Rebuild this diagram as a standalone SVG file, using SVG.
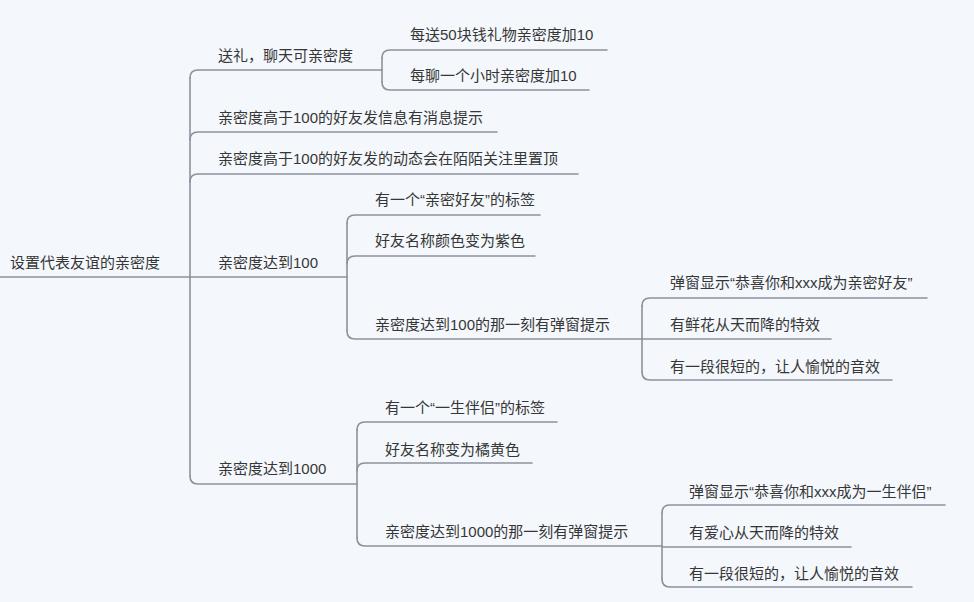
<svg xmlns="http://www.w3.org/2000/svg" width="974" height="602" viewBox="0 0 974 602">
<style>
.bg{fill:#f4f8fc}
.c{fill:none;stroke:#8c919d;stroke-width:1.6;stroke-linecap:round}
text{font-family:"Liberation Sans","Noto Sans CJK SC",sans-serif;font-size:15px;fill:#363636;dominant-baseline:central}
</style>
<rect class="bg" x="0" y="0" width="974" height="602"/>
<g id="connectors">
<path class="c" d="M0,277 H190"/>
<path class="c" d="M190,78 V476"/>
<path class="c" d="M190,78 Q190,70 198,70 H382"/>
<path class="c" d="M190,140 Q190,132 198,132 H497"/>
<path class="c" d="M190,182 Q190,174 198,174 H578"/>
<path class="c" d="M190,277 H347"/>
<path class="c" d="M190,476 Q190,484 198,484 H357"/>
<path class="c" d="M382,58 V82"/>
<path class="c" d="M382,58 Q382,50 390,50 H607"/>
<path class="c" d="M382,82 Q382,90 390,90 H589"/>
<path class="c" d="M347,223 V331"/>
<path class="c" d="M347,223 Q347,215 355,215 H540"/>
<path class="c" d="M347,264 Q347,256 355,256 H535"/>
<path class="c" d="M347,331 Q347,339 355,339 H642"/>
<path class="c" d="M642,306 V372"/>
<path class="c" d="M642,306 Q642,298 650,298 H927"/>
<path class="c" d="M642,339 H831"/>
<path class="c" d="M642,372 Q642,380 650,380 H892"/>
<path class="c" d="M357,430 V538"/>
<path class="c" d="M357,430 Q357,422 365,422 H557"/>
<path class="c" d="M357,471 Q357,463 365,463 H532"/>
<path class="c" d="M357,538 Q357,546 365,546 H662"/>
<path class="c" d="M662,513 V579"/>
<path class="c" d="M662,513 Q662,505 670,505 H945"/>
<path class="c" d="M662,547 H851"/>
<path class="c" d="M662,579 Q662,587 670,587 H912"/>
</g>
<g id="root"><text x="10" y="262">设置代表友谊的亲密度</text></g>
<g id="n1"><text x="218" y="55">送礼，聊天可亲密度</text></g>
<g id="n1a"><text x="410" y="34">每送50块钱礼物亲密度加10</text></g>
<g id="n1b"><text x="410" y="75">每聊一个小时亲密度加10</text></g>
<g id="n2"><text x="218" y="117">亲密度高于100的好友发信息有消息提示</text></g>
<g id="n3"><text x="218" y="158">亲密度高于100的好友发的动态会在陌陌关注里置顶</text></g>
<g id="n4"><text x="218" y="262">亲密度达到100</text></g>
<g id="n4a"><text x="375" y="199">有一个“亲密好友”的标签</text></g>
<g id="n4b"><text x="375" y="240">好友名称颜色变为紫色</text></g>
<g id="n4c"><text x="375" y="324">亲密度达到100的那一刻有弹窗提示</text></g>
<g id="n4c1"><text x="670" y="282">弹窗显示“恭喜你和xxx成为亲密好友”</text></g>
<g id="n4c2"><text x="670" y="324">有鲜花从天而降的特效</text></g>
<g id="n4c3"><text x="670" y="366">有一段很短的，让人愉悦的音效</text></g>
<g id="n5"><text x="218" y="468">亲密度达到1000</text></g>
<g id="n5a"><text x="385" y="407">有一个“一生伴侣”的标签</text></g>
<g id="n5b"><text x="385" y="449">好友名称变为橘黄色</text></g>
<g id="n5c"><text x="385" y="531">亲密度达到1000的那一刻有弹窗提示</text></g>
<g id="n5c1"><text x="689" y="491">弹窗显示“恭喜你和xxx成为一生伴侣”</text></g>
<g id="n5c2"><text x="689" y="532">有爱心从天而降的特效</text></g>
<g id="n5c3"><text x="689" y="573">有一段很短的，让人愉悦的音效</text></g>
</svg>
